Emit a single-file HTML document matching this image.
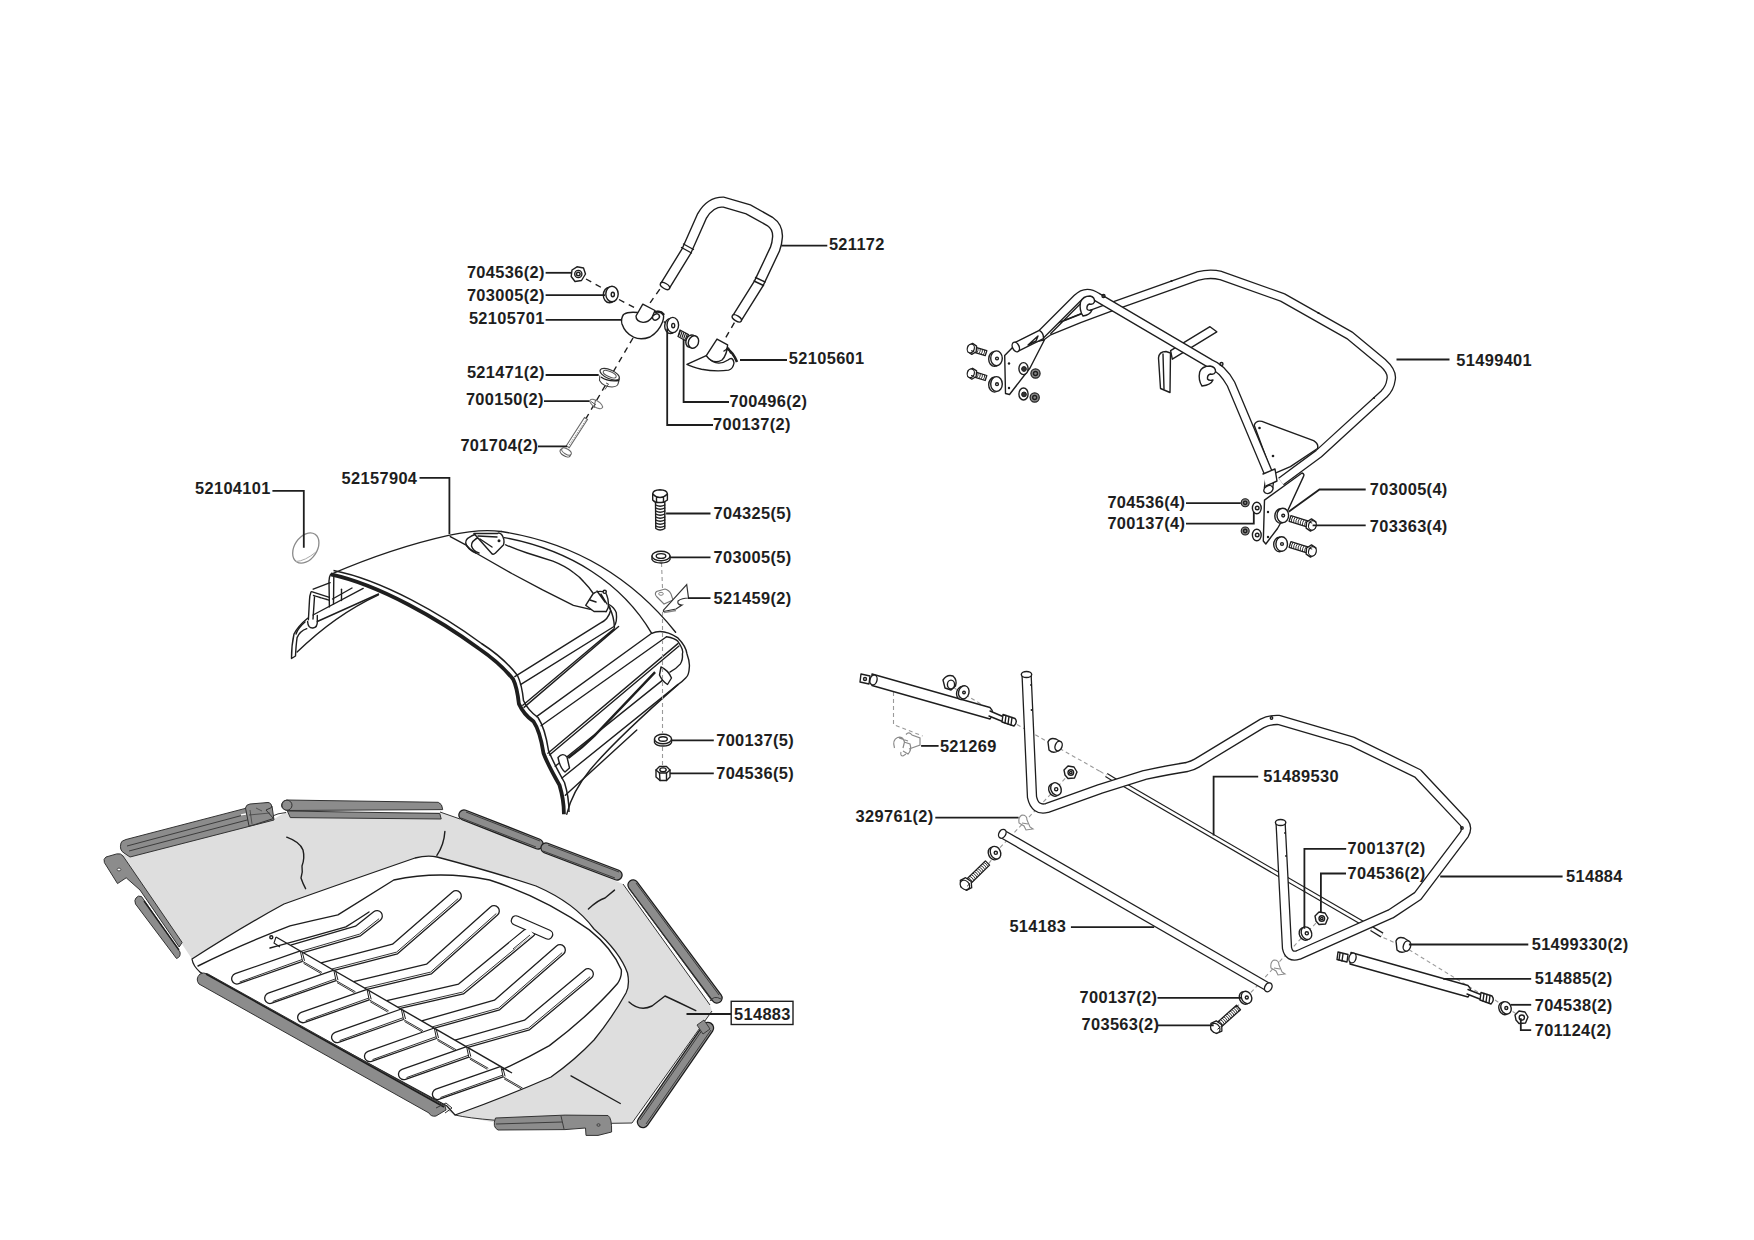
<!DOCTYPE html>
<html><head><meta charset="utf-8"><style>
html,body{margin:0;padding:0;background:#fff;}
svg{display:block;}
.lb text{font-family:"Liberation Sans",sans-serif;font-weight:bold;font-size:16.4px;letter-spacing:0.35px;fill:#1e1e1e;}
.ld polyline{fill:none;stroke:#1e1e1e;stroke-width:1.8;}
.p{fill:none;stroke:#1e1e1e;stroke-width:1.4;stroke-linejoin:round;stroke-linecap:round;}
.pw{fill:#fff;stroke:#1e1e1e;stroke-width:1.4;stroke-linejoin:round;stroke-linecap:round;}
.dsh{fill:none;stroke:#1e1e1e;stroke-width:1.4;stroke-dasharray:6 5;}
.dshl{fill:none;stroke:#9a9a9a;stroke-width:1.1;stroke-dasharray:4 3;}
</style></head><body>
<svg width="1754" height="1240" viewBox="0 0 1754 1240">
<rect width="1754" height="1240" fill="#fff"/>
<!-- 01_handle.svg -->
<g id="handle">
<path d="M 665 286 L 686.5 251 L 702 216 Q 710 202 723 202 L 748.5 209.5 L 770 221.5 Q 778 227 777.5 237 Q 777 244 775 249 L 758.7 283.5 L 736.8 318.4" fill="none" stroke="#1e1e1e" stroke-width="11.2"/>
<path d="M 665 286 L 686.5 251 L 702 216 Q 710 202 723 202 L 748.5 209.5 L 770 221.5 Q 778 227 777.5 237 Q 777 244 775 249 L 758.7 283.5 L 736.8 318.4" fill="none" stroke="#fff" stroke-width="8.4"/>
<ellipse cx="665" cy="286" rx="5.2" ry="2.6" transform="rotate(31 665 286)" class="pw"/>
<ellipse cx="736.8" cy="318.4" rx="5.2" ry="2.6" transform="rotate(32 736.8 318.4)" class="pw"/>
<path d="M 681.5 247.5 L 691.5 253 M 683.5 244 L 693.5 249.5" class="p"/>
<path d="M 754 281 L 763.5 285.5 M 755.5 277.5 L 765 282" class="p"/>
<path d="M 659.8 289.2 L 650.1 302.8" class="dsh"/>
<path d="M 734.4 322.6 L 723.7 341.1" class="dsh"/>
<path d="M 586 279 L 604 289 M 619 299.5 L 638 309.5" class="dsh"/>
<path d="M 633 338 L 585.6 419.2" class="dsh"/>
<!-- nut 704536 -->
<path d="M 572 270 L 577 266.8 L 583.5 268 L 585.5 274 L 581.5 280.5 L 575 281.5 L 571.2 276.5 Z" class="pw"/>
<circle cx="578.3" cy="274" r="3.6" class="p"/>
<circle cx="578.3" cy="274" r="1.8" class="p" stroke-width="1"/>
<!-- washer 703005 -->
<ellipse cx="609.5" cy="295" rx="6.2" ry="7.8" class="pw"/>
<ellipse cx="612" cy="294" rx="6.2" ry="7.8" class="pw"/>
<ellipse cx="612.8" cy="294.5" rx="1.6" ry="2.2" class="p" stroke-width="1.6"/>
<!-- bracket 52105701 -->
<path d="M 637.5 312.5 Q 628 311.5 623.5 314.5 Q 620.5 319 622 324 Q 625 333 633.6 337.2 Q 641 340.5 650 337 Q 659 331.5 662.5 322 Q 665 315 662 312.5 Q 658.5 310.8 655 312" class="pw"/>
<path d="M 636 316 L 642.8 304.2 L 655 310.5 L 652 317.5 Q 648 322.5 643 322.4 Q 636 321.5 636 316 Z" class="pw"/>
<ellipse cx="656" cy="317" rx="3.6" ry="2.8" transform="rotate(-30 656 317)" class="pw"/>
<path d="M 655 312 Q 661 310.5 664 315" fill="none" stroke="#1e1e1e" stroke-width="2.4"/>
<path d="M 663.7 321.7 L 667 323.4" class="dsh"/>
<!-- washer 700137 -->
<ellipse cx="670.5" cy="326" rx="5.8" ry="7.6" class="pw"/>
<ellipse cx="672.8" cy="325" rx="5.8" ry="7.6" class="pw"/>
<ellipse cx="673.2" cy="325.6" rx="1.5" ry="2.2" class="p" stroke-width="1.6"/>
<!-- screw 700496 -->
<path d="M 680 330 L 688.5 334.5 L 686 341 L 678 336.5 Z" fill="#fff" stroke="#1e1e1e" stroke-width="1.2"/>
<path d="M 680.5 330.5 L 678.5 336 M 682.2 331.3 L 680.2 336.9 M 683.9 332.2 L 681.9 337.8 M 685.6 333.1 L 683.6 338.7 M 687.3 334 L 685.3 339.6" stroke="#1e1e1e" stroke-width="1.1"/>
<ellipse cx="691" cy="341.2" rx="5" ry="6.4" transform="rotate(20 691 341.2)" class="pw"/>
<ellipse cx="693.5" cy="342" rx="5" ry="6.4" transform="rotate(20 693.5 342)" class="pw"/>
<!-- bracket 52105601 -->
<path d="M 686.9 364.3 L 706.3 355.6 Q 716 368 728 360 Q 733 356 734 363 Q 733 369 728.6 370.1 Q 716 372 701.5 369.2 Q 692 367 686.9 364.3 Z" class="pw"/>
<path d="M 706.3 355.6 L 717 339.1 L 727.6 344.9 Q 727 355 722 360 Q 713 365 706.3 355.6 Z" class="pw"/>
<path d="M 726.5 348 Q 733 352 737 362" fill="none" stroke="#1e1e1e" stroke-width="2.6"/>
<path d="M 724 351 L 728.5 348 L 730.5 353" class="p"/>
<!-- spacer 521471 -->
<path d="M 599.8 375.5 L 599.5 380.5 Q 603 386.5 612 387 Q 617.5 386.5 618 384 L 619.6 378.5" fill="#fff" stroke="#444" stroke-width="1.1"/>
<ellipse cx="609.7" cy="374.2" rx="10.4" ry="4.4" transform="rotate(24 609.7 374.2)" fill="#fff" stroke="#333" stroke-width="1.2"/>
<ellipse cx="609.7" cy="374.2" rx="7" ry="2.6" transform="rotate(24 609.7 374.2)" fill="none" stroke="#555" stroke-width="1"/>
<path d="M 601 377 Q 608 382 619 380.5" fill="none" stroke="#1e1e1e" stroke-width="1.4"/>
<path d="M 606 383 L 608.5 384 L 605 389.5" fill="none" stroke="#555" stroke-width="1"/>
<!-- washer 700150 -->
<ellipse cx="596.2" cy="404" rx="7.2" ry="3.2" transform="rotate(32 596.2 404)" fill="#fff" stroke="#777" stroke-width="1.1"/>
<path d="M 591 401.5 L 596 405 M 595.5 400 L 594 408" fill="none" stroke="#555" stroke-width="1"/>
<!-- bolt 701704 -->
<path d="M 584.5 417.5 L 587.5 419.5 L 569.2 447.8 L 566.3 445.8 Z" fill="#fff" stroke="#666" stroke-width="1.1"/>
<path d="M 585.6 420.5 L 568.5 446" stroke="#888" stroke-width="0.9" stroke-dasharray="1.6 1.2"/>
<ellipse cx="565.2" cy="453" rx="5.8" ry="3" transform="rotate(32 565.2 453)" fill="#fff" stroke="#555" stroke-width="1.1"/>
<ellipse cx="566.5" cy="451.5" rx="5.4" ry="2.6" transform="rotate(32 566.5 451.5)" fill="#fff" stroke="#666" stroke-width="1"/>
</g>

<!-- 02_hood.svg -->
<g id="hood">
<!-- oval 52104101 -->
<ellipse cx="305.8" cy="548" rx="16.6" ry="11.2" transform="rotate(-56 305.8 548)" fill="#fff" stroke="#8a8a8a" stroke-width="1.3"/>
<path d="M 296 561.5 Q 305 561 316 552" fill="none" stroke="#aaa" stroke-width="1"/>
<!-- top edge -->
<path d="M 330.7 574.4 Q 392 548 448.6 535.4 Q 480 528.5 501.3 531.5" class="p" stroke-width="2.2"/>
<!-- rear outer arc -->
<path d="M 501.3 531.5 C 570 542 630 575 675.6 632.2" class="p"/>
<path d="M 504.3 537.6 C 570 550 622 583 651.7 633.3" class="p"/>
<!-- end cap -->
<path d="M 651.7 633.3 Q 663 628 677.9 637.9 Q 686 646 687 653.9 Q 690 662 689.3 667.5 Q 689 675 685.9 677.8 Q 682 682 677.9 684.6 Q 615 740 590 770 Q 572 792 566.8 814.2" class="p"/>
<path d="M 666.5 636.7 Q 675 638 677.9 641.3 Q 684 650 682.4 653.9 Q 683 660 680.2 664.1 Q 676 669 669.9 672.1" class="p"/>
<!-- thick front edge -->
<path d="M 330.7 574.4 C 380 585 440 620 478.8 648.5 Q 500 663 513.1 679.2 Q 517 687 518.9 703.9 Q 524 715 533.4 721.3 Q 540 731 543.5 753.2 Q 548 765 559.5 785.1 Q 564 800 563.9 814.2" fill="none" stroke="#1e1e1e" stroke-width="3.8" stroke-linejoin="round"/>
<path d="M 333.5 570.5 C 382.5 580 443 615 481.5 643.5 Q 504 658 517.5 675.5 Q 522 685 523.5 700.5 Q 528 710.5 538 717.5 Q 545 728 548.5 750.5 Q 553 762 564.5 782.5 Q 569 797 569 812" fill="none" stroke="#1e1e1e" stroke-width="1.5" stroke-linejoin="round"/>
<!-- skirt lines -->
<path d="M 514.8 676.7 L 600.3 623.1 Q 608.3 619.6 610.6 610.5 Q 610 606 607.2 604.8" class="p"/>
<path d="M 520.5 684.6 L 614 626.5 Q 617.4 621.9 616.3 612.8 Q 614 607 609.5 604.8" class="p"/>
<path d="M 522.8 705.2 L 614 628.8 M 524 707.4 L 618.6 626.5" class="p" stroke-width="1.1"/>
<path d="M 536.5 716.6 L 651.7 633.3" class="p"/>
<path d="M 541 725.7 L 666.5 636.7" class="p"/>
<path d="M 547.9 753.2 L 677.9 643.6 M 549.5 755 L 679 646" class="p" stroke-width="1.1"/>
<path d="M 555.2 766.3 L 664.2 678.9" class="p"/>
<path d="M 562 778 L 677.9 684.6" class="p"/>
<path d="M 565.3 795.3 L 636.8 730" class="p" stroke-width="0"/>
<!-- rod -->
<path d="M 568.2 758 Q 582 748 594.3 735.8 L 655.1 672.1" fill="none" stroke="#1e1e1e" stroke-width="2.4"/>
<path d="M 661 667 Q 668 670 671.5 678 L 667.5 684.5 Q 662 681 659.5 675 Z" class="pw"/>
<path d="M 558 757.5 Q 563 752 567 757 L 569.5 768 L 565 772 Q 560 768 558 757.5 Z" class="pw"/>
<!-- left wing -->
<path d="M 330.5 574.5 Q 329 577 329 581 L 329.4 606.9" class="p" stroke-width="1.6"/>
<path d="M 333.8 577 L 333.5 604" class="p" stroke-width="1.3"/>
<path d="M 311.6 591.6 L 329.4 597.3" class="p" stroke-width="2.8"/>
<path d="M 313.5 595.5 L 328.5 600" class="p" stroke-width="0.9" stroke-dasharray="2 1"/>
<path d="M 313.2 589.2 L 330.2 582.7" class="p" stroke-width="1.1"/>
<path d="M 311 592 Q 309.5 596 309.5 600 L 308.4 619.8" class="p" stroke-width="1.6"/>
<path d="M 314.5 597 L 313 619" class="p" stroke-width="1.3"/>
<path d="M 307.6 621.5 Q 308 628.5 313 628 Q 317.5 627.5 317.3 621.5 L 317.3 615.5" class="p" stroke-width="1.2"/>
<path d="M 313 615 L 363.2 588.4" class="p" stroke-width="2"/>
<path d="M 341.5 589.2 L 341.5 600.5" class="p" stroke-width="1.2"/>
<path d="M 332.5 599 L 352 588" class="p" stroke-width="1.6"/>
<path d="M 317.3 621.5 L 378.5 594" class="p" stroke-width="1.3"/>
<path d="M 297.1 652.1 Q 335 615 378.5 594.8" class="p" stroke-width="1.4"/>
<path d="M 307.6 618.2 Q 298 626 294 634 Q 291.5 645 291.5 658.5 L 295.5 656 Q 296 645 297.1 637.6 Q 300 631 306.8 628.7" class="p" stroke-width="1.8"/>
<path d="M 305 622 Q 298 628 296 634" class="p" stroke-width="1"/>
<!-- handle recess -->
<path d="M 450.3 536.6 L 465.7 544.8 Q 470 550 475.9 553 L 511.8 573.5 L 542.6 589.9 L 573.4 605.3 Q 590 610 606.3 611.5" class="p" stroke-width="1.5"/>
<path d="M 505.7 544.8 Q 515 549 527.2 553 Q 540 557 552.9 561.2 Q 565 566 573.4 572.5 Q 580 577 583.7 581.7 Q 589 587 592.9 593" class="p" stroke-width="2.2"/>
<path d="M 476 534 Q 465 538 465.7 543 Q 467 549 475.9 553" class="p" stroke-width="1.2"/>
<path d="M 479 537 Q 471 541 471.5 546 Q 473 551 479 553" class="p" stroke-width="1.1"/>
<path d="M 473.9 533.5 L 491.3 553 Q 493 555.5 495.5 553 L 503.6 544.8 Q 505 539 501.6 534.5 Q 499 532 497.5 533.5 L 473.9 533.5 Z" class="pw" stroke-width="1.3"/>
<path d="M 478 536 L 497 537 M 480 539 L 492 547" class="p" stroke-width="0.9"/>
<circle cx="499" cy="540.7" r="1.5" fill="#1e1e1e"/>
<path d="M 585.7 605.3 L 592.9 594 Q 597 590 605.2 592 Q 609 598 608.3 607.4 L 606.3 611.5 L 594 611.5 Z" class="pw" stroke-width="1.2"/>
<path d="M 590 600 L 596 602 M 597 591 L 605 602 M 601 594 L 607 604" class="p" stroke-width="0.9"/>
<circle cx="604.7" cy="591.8" r="1.6" class="pw" stroke-width="1"/>
<path d="M 609.3 607.4 Q 614 616 614.5 627.9" class="p" stroke-width="1.1"/>
</g>

<!-- 03_bag.svg -->
<g id="bag">
<!-- gray body -->
<path d="M 122 854 L 130 856 L 274 819 L 286 812 L 440 812 L 460 819 L 541 850 L 623 884 L 710 1005 L 712 1011 L 632 1123 L 565 1124 L 492 1122 L 455 1115 L 200 972 L 192 959 L 182 944 Z" fill="#dedede" stroke="none"/>
<path d="M 270 817 Q 278 813 286 812.5 M 440 812 L 460 819 M 623 884 L 710 1005 M 712 1011 L 632 1123 M 455 1115 Q 480 1121 565 1124 L 632 1123" fill="none" stroke="#333" stroke-width="1"/>
<!-- wrinkles -->
<path d="M 286.7 837.2 Q 300 842 303 850 Q 305 858 302 866 Q 303 872 301 878 Q 303 884 305.6 888.7" class="p" stroke-width="1.1"/>
<path d="M 444.9 831.4 Q 444 845 436.9 855.3" class="p" stroke-width="1.1"/>
<path d="M 588.4 909 Q 598 900 605 898 L 614.5 890.1" class="p" stroke-width="1.1"/>
<path d="M 629 1001.9 Q 640 1012 652 1006 L 665 996 Q 680 1003 695.8 1010.6" class="p" stroke-width="1.1"/>
<path d="M 571 1075.9 L 620.3 1103.5" class="p" stroke-width="1.1"/>
<!-- floor -->
<path d="M 192 959 Q 240 928 284 904 Q 340 884 415 858 Q 427 855 437 857 Q 490 871 536 886 Q 575 903 594 929 Q 620 952 627.5 973 Q 630 985 626 993 Q 612 1018 594 1040 Q 575 1060 551 1077 Q 505 1097 455 1115 L 447 1106 L 200.4 972.4 Q 193 966 192 959 Z" fill="#fff" stroke="#1e1e1e" stroke-width="1.3"/>
<path d="M 198 966 Q 240 945 290 925.9 Q 315 920 337.9 914.9 Q 365 898 393.8 880 Q 440 870 489.6 880 Q 545 898 589.3 929.9 Q 612 948 621.3 969.8 Q 622 977 617.3 983.8 Q 590 1015 549.4 1045.6 Q 515 1065 479.6 1079.6 L 452 1090" class="p" stroke-width="1.1"/>
<path d="M 270 948 Q 300 940 345.9 926.9 Q 360 918 369 912" class="p" stroke-width="1.1"/>
<path d="M 300.3 950.8 L 235.2 973.7 A 5.3 5.3 0 0 0 238.8 983.7 L 302.5 961.3" fill="#fff" stroke="#1e1e1e" stroke-width="1.3" stroke-linejoin="round"/>
<path d="M 239.7 982.0 L 301.9 959.6" stroke="#1e1e1e" stroke-width="0.9"/>
<path d="M 300.3 950.8 L 302.5 961.3 M 302.3 952.3 L 304.5 960.8" stroke="#1e1e1e" stroke-width="1"/>
<path d="M 302.5 961.3 L 322.0 972.5 M 303.5 963.3 L 321.0 973.5" stroke="#1e1e1e" stroke-width="0.9"/>
<path d="M 333.8 970.2 L 268.2 993.2 A 5.3 5.3 0 0 0 271.8 1003.2 L 336.0 980.6" fill="#fff" stroke="#1e1e1e" stroke-width="1.3" stroke-linejoin="round"/>
<path d="M 272.7 1001.5 L 335.4 978.9" stroke="#1e1e1e" stroke-width="0.9"/>
<path d="M 333.8 970.2 L 336.0 980.6 M 335.8 971.7 L 338.0 980.1" stroke="#1e1e1e" stroke-width="1"/>
<path d="M 336.0 980.6 L 355.5 991.8 M 337.0 982.6 L 354.5 992.8" stroke="#1e1e1e" stroke-width="0.9"/>
<path d="M 367.0 989.3 L 301.2 1012.4 A 5.3 5.3 0 0 0 304.8 1022.4 L 369.2 999.8" fill="#fff" stroke="#1e1e1e" stroke-width="1.3" stroke-linejoin="round"/>
<path d="M 305.7 1020.7 L 368.6 998.1" stroke="#1e1e1e" stroke-width="0.9"/>
<path d="M 367.0 989.3 L 369.2 999.8 M 369.0 990.8 L 371.2 999.3" stroke="#1e1e1e" stroke-width="1"/>
<path d="M 369.2 999.8 L 388.7 1011.0 M 370.2 1001.8 L 387.7 1012.0" stroke="#1e1e1e" stroke-width="0.9"/>
<path d="M 401.3 1009.0 L 335.1 1032.3 A 5.3 5.3 0 0 0 338.7 1042.3 L 403.5 1019.5" fill="#fff" stroke="#1e1e1e" stroke-width="1.3" stroke-linejoin="round"/>
<path d="M 339.6 1040.6 L 402.9 1017.8" stroke="#1e1e1e" stroke-width="0.9"/>
<path d="M 401.3 1009.0 L 403.5 1019.5 M 403.3 1010.5 L 405.5 1019.0" stroke="#1e1e1e" stroke-width="1"/>
<path d="M 403.5 1019.5 L 423.0 1030.7 M 404.5 1021.5 L 422.0 1031.7" stroke="#1e1e1e" stroke-width="0.9"/>
<path d="M 434.3 1028.0 L 368.0 1051.3 A 5.3 5.3 0 0 0 371.6 1061.3 L 436.5 1038.5" fill="#fff" stroke="#1e1e1e" stroke-width="1.3" stroke-linejoin="round"/>
<path d="M 372.5 1059.6 L 435.9 1036.8" stroke="#1e1e1e" stroke-width="0.9"/>
<path d="M 434.3 1028.0 L 436.5 1038.5 M 436.3 1029.5 L 438.5 1038.0" stroke="#1e1e1e" stroke-width="1"/>
<path d="M 436.5 1038.5 L 456.0 1049.7 M 437.5 1040.5 L 455.0 1050.7" stroke="#1e1e1e" stroke-width="0.9"/>
<path d="M 466.6 1046.6 L 402.0 1069.3 A 5.3 5.3 0 0 0 405.6 1079.3 L 468.8 1057.1" fill="#fff" stroke="#1e1e1e" stroke-width="1.3" stroke-linejoin="round"/>
<path d="M 406.5 1077.6 L 468.2 1055.4" stroke="#1e1e1e" stroke-width="0.9"/>
<path d="M 466.6 1046.6 L 468.8 1057.1 M 468.6 1048.1 L 470.8 1056.6" stroke="#1e1e1e" stroke-width="1"/>
<path d="M 468.8 1057.1 L 488.3 1068.3 M 469.8 1059.1 L 487.3 1069.3" stroke="#1e1e1e" stroke-width="0.9"/>
<path d="M 500.9 1066.4 L 435.9 1089.2 A 5.3 5.3 0 0 0 439.5 1099.2 L 503.1 1076.9" fill="#fff" stroke="#1e1e1e" stroke-width="1.3" stroke-linejoin="round"/>
<path d="M 440.4 1097.5 L 502.5 1075.2" stroke="#1e1e1e" stroke-width="0.9"/>
<path d="M 500.9 1066.4 L 503.1 1076.9 M 502.9 1067.9 L 505.1 1076.4" stroke="#1e1e1e" stroke-width="1"/>
<path d="M 503.1 1076.9 L 522.6 1088.1 M 504.1 1078.9 L 521.6 1089.1" stroke="#1e1e1e" stroke-width="0.9"/>
<path d="M 290.6 945.2 L 355.5 926.2 L 373.7 911.8 A 5.3 5.3 0 0 1 380.3 920.2 L 380.3 920.2 L 360.5 935.8 L 303.3 952.6" fill="#fff" stroke="#1e1e1e" stroke-width="1.3" stroke-linejoin="round"/>
<path d="M 301.0 951.3 L 359.6 934.1 L 379.1 918.7" fill="none" stroke="#1e1e1e" stroke-width="0.9" stroke-linejoin="round"/>
<path d="M 321.1 962.8 L 392.5 944.2 L 452.5 892.0 A 5.3 5.3 0 0 1 459.5 900.0 L 459.5 900.0 L 397.5 953.8 L 334.2 970.4" fill="#fff" stroke="#1e1e1e" stroke-width="1.3" stroke-linejoin="round"/>
<path d="M 331.9 969.0 L 396.6 952.1 L 458.2 898.6" fill="none" stroke="#1e1e1e" stroke-width="0.9" stroke-linejoin="round"/>
<path d="M 353.6 981.6 L 426.5 964.2 L 490.5 907.0 A 5.3 5.3 0 0 1 497.5 915.0 L 497.5 915.0 L 431.5 973.8 L 367.0 989.3" fill="#fff" stroke="#1e1e1e" stroke-width="1.3" stroke-linejoin="round"/>
<path d="M 364.6 987.9 L 430.6 972.1 L 496.3 913.5" fill="none" stroke="#1e1e1e" stroke-width="0.9" stroke-linejoin="round"/>
<path d="M 386.8 1000.7 L 458.6 984.1 L 526.6 927.9 A 5.3 5.3 0 0 1 533.4 936.1 L 533.4 936.1 L 463.4 993.9 L 400.3 1008.4" fill="#fff" stroke="#1e1e1e" stroke-width="1.3" stroke-linejoin="round"/>
<path d="M 397.9 1007.1 L 462.5 992.1 L 532.2 934.6" fill="none" stroke="#1e1e1e" stroke-width="0.9" stroke-linejoin="round"/>
<path d="M 421.8 1020.8 L 494.4 1000.2 L 556.5 946.0 A 5.3 5.3 0 0 1 563.5 954.0 L 563.5 954.0 L 499.6 1009.8 L 434.6 1028.2" fill="#fff" stroke="#1e1e1e" stroke-width="1.3" stroke-linejoin="round"/>
<path d="M 432.3 1026.9 L 498.7 1008.1 L 562.2 952.6" fill="none" stroke="#1e1e1e" stroke-width="0.9" stroke-linejoin="round"/>
<path d="M 455.1 1040.0 L 524.5 1020.2 L 584.6 969.9 A 5.3 5.3 0 0 1 591.4 978.1 L 591.4 978.1 L 529.5 1029.8 L 467.9 1047.4" fill="#fff" stroke="#1e1e1e" stroke-width="1.3" stroke-linejoin="round"/>
<path d="M 465.6 1046.1 L 528.6 1028.1 L 590.2 976.6" fill="none" stroke="#1e1e1e" stroke-width="0.9" stroke-linejoin="round"/>
<path d="M 516 920.5 L 548 934.5" stroke="#1e1e1e" stroke-width="10.6" stroke-linecap="round"/>
<path d="M 516 920.5 L 548 934.5" stroke="#fff" stroke-width="8" stroke-linecap="round"/>
<path d="M 512 946 L 531 931" stroke="#fff" stroke-width="8"/>
<path d="M 513 949 L 530 935" stroke="#1e1e1e" stroke-width="0.9"/>
<path d="M 276 937 L 512 1073" stroke="#1e1e1e" stroke-width="1.4"/>
<path d="M 276 937 L 274 943 L 280 947" fill="none" stroke="#1e1e1e" stroke-width="1.1"/>
<circle cx="271.3" cy="937.3" r="1.5" class="p" stroke-width="1"/>
<!-- top-left rod band -->
<path d="M 121 843 Q 119 850 124 853 L 130 857 L 274 820 L 272 806 L 268 802.5 L 126 839.5 Q 121 841 121 843 Z" fill="#8c8c8c" stroke="#333" stroke-width="1"/>
<path d="M 127 846 L 266 809 M 129 851 L 270 814" fill="none" stroke="#333" stroke-width="0.9"/>
<path d="M 245.5 808 Q 246 804.5 250 804 L 268 802.5 Q 272 803 271.5 807.5 L 266 810 L 273.5 818.5 L 255 824.5 L 249 826 Z" fill="#8c8c8c" stroke="#333" stroke-width="1"/>
<path d="M 250 810 L 252 824 M 256 808 L 262 811 M 249 815 L 270 813" fill="none" stroke="#444" stroke-width="0.8"/>
<path d="M 241 815 L 246 814" stroke="#fff" stroke-width="1.5"/>
<!-- left plate -->
<path d="M 104.4 862.6 Q 103 859 106 857 L 116.8 853.9 Q 121 853 123 856 L 182.1 942.4 L 179.2 947 L 140 890 L 126.2 877.8 L 117.5 883.6 Z" fill="#8c8c8c" stroke="#333" stroke-width="1"/>
<ellipse cx="119" cy="869.5" rx="1.8" ry="1.4" fill="#fff" stroke="#333" stroke-width="0.8"/>
<path d="M 136 898 Q 138 895 141.5 896.5 L 180 952 Q 181 957 176.5 958.5 L 135.5 904 Q 134 900 136 898 Z" fill="#8c8c8c" stroke="#333" stroke-width="1"/>
<path d="M 144 901 L 179 950" stroke="#1e1e1e" stroke-width="1.4"/>
<!-- top center rod -->
<path d="M 286.7 800 L 438.3 802.3 Q 442.5 804 442.7 809.6 L 287 810.5 Q 281 809 281.5 804.5 Q 282.5 800.3 286.7 800 Z" fill="#8c8c8c" stroke="#333" stroke-width="1"/>
<circle cx="287" cy="805.2" r="5" fill="#8c8c8c" stroke="#333" stroke-width="1"/>
<path d="M 287.4 811 L 439.8 813.5 L 441.2 819 L 290.3 817.6 Z" fill="#8c8c8c" stroke="#333" stroke-width="1"/>
<!-- top right rod -->
<path d="M 464 815 L 538 844" stroke="#1e1e1e" stroke-width="11.5" stroke-linecap="round"/>
<path d="M 464 815 L 538 844" stroke="#8c8c8c" stroke-width="9" stroke-linecap="round"/>
<path d="M 461 818 L 536 847" stroke="#333" stroke-width="0.9"/>
<path d="M 466 812 L 540 841" stroke="#333" stroke-width="0.9"/>
<path d="M 546 848 L 617 875" stroke="#1e1e1e" stroke-width="11.5" stroke-linecap="round"/>
<path d="M 546 848 L 617 875" stroke="#8c8c8c" stroke-width="9" stroke-linecap="round"/>
<path d="M 543 851 L 615 878" stroke="#333" stroke-width="0.9"/>
<path d="M 548 845 L 619 872" stroke="#333" stroke-width="0.9"/>
<!-- right upper rod -->
<path d="M 633 885 L 717 998" stroke="#1e1e1e" stroke-width="11.5" stroke-linecap="round"/>
<path d="M 633 885 L 717 998" stroke="#8c8c8c" stroke-width="9" stroke-linecap="round"/>
<path d="M 629.5 889 L 712 1001" stroke="#333" stroke-width="0.9"/>
<path d="M 636 883 L 719 995" stroke="#333" stroke-width="0.9"/>
<path d="M 710 1001 Q 714 995 721 999" fill="none" stroke="#333" stroke-width="0.9"/>
<!-- right lower rod -->
<path d="M 708 1028 L 643 1122" stroke="#1e1e1e" stroke-width="12.5" stroke-linecap="round"/>
<path d="M 708 1028 L 643 1122" stroke="#8c8c8c" stroke-width="10" stroke-linecap="round"/>
<path d="M 711 1030 L 646 1124" stroke="#333" stroke-width="0.9"/>
<path d="M 705 1026 L 640 1120" stroke="#333" stroke-width="0.9"/>
<path d="M 697 1025 L 704 1020 L 710 1029 L 703 1034 Z" fill="#8c8c8c" stroke="#333" stroke-width="0.9"/>
<!-- bottom bracket -->
<path d="M 495.5 1118 L 565.1 1115.1 L 608 1115.5 Q 612 1118 611.6 1132 L 598 1135.4 L 586 1135.4 L 585.5 1128 L 565 1129.6 L 498 1130 Q 492 1127 495.5 1118 Z" fill="#8c8c8c" stroke="#333" stroke-width="1"/>
<path d="M 496 1124 L 562 1122 M 561 1116 L 564 1129" fill="none" stroke="#333" stroke-width="0.9"/>
<ellipse cx="598.5" cy="1125" rx="1.6" ry="1.3" fill="none" stroke="#333" stroke-width="0.8"/>
<!-- bottom rod -->
<path d="M 200 974 Q 203 972 208 974 L 445 1106 L 446 1110 L 436 1116 Q 431 1117 429 1113 L 199 984 Q 195 979 200 974 Z" fill="#8c8c8c" stroke="#333" stroke-width="1"/>
<path d="M 206 974 L 444 1107" stroke="#1e1e1e" stroke-width="1.6"/>
<path d="M 436 1108 L 446 1103 L 452 1108 L 445 1113" fill="none" stroke="#333" stroke-width="1"/>
</g>

<!-- 04_frame1.svg -->
<g id="frame1">
<!-- back tube -->
<path id="bt" d="M 1030 345 L 1049 331 Q 1080 318 1110.8 307 L 1198 276 Q 1210 273 1220.7 275.5 L 1282.6 297.5 L 1349.8 335.5 L 1383 363 Q 1393 372 1391 380 Q 1390 388 1384 394 L 1318.7 453.7 L 1281 481.5" fill="none" stroke="#1e1e1e" stroke-width="9.6" stroke-linejoin="round"/>
<path d="M 1030 345 L 1049 331 Q 1080 318 1110.8 307 L 1198 276 Q 1210 273 1220.7 275.5 L 1282.6 297.5 L 1349.8 335.5 L 1383 363 Q 1393 372 1391 380 Q 1390 388 1384 394 L 1318.7 453.7 L 1281 481.5" fill="none" stroke="#fff" stroke-width="7" stroke-linejoin="round"/>
<!-- gusset -->
<path d="M 1254.2 425.2 Q 1256 420 1262 421.4 L 1313.6 440.7 Q 1319 444 1317.5 448.5 L 1290.4 466.6 L 1272.3 474.3 Z" class="pw" stroke-width="1.2"/>
<circle cx="1259.5" cy="428" r="1.3" fill="#1e1e1e"/>
<circle cx="1273" cy="456" r="1.3" fill="#1e1e1e"/>
<!-- strap bracket -->
<path d="M 1170.6 350.6 L 1210 326.7 L 1216.8 331.8 L 1172.3 359.2 Z" class="pw" stroke-width="1.2"/>
<path d="M 1158.5 358 Q 1159 351.5 1166 351.5 L 1170.5 353 L 1170 392.5 L 1160.5 388.5 Z" class="pw" stroke-width="1.2"/>
<path d="M 1163 354 L 1164 389" class="p" stroke-width="1"/>
<!-- front tube -->
<path id="ft" d="M 1017 346.5 L 1041 334.5 L 1077 298.5 Q 1086 289.5 1097 297 L 1210 363.5 Q 1222 368 1231 384 L 1270 477 L 1268.4 489" fill="none" stroke="#1e1e1e" stroke-width="9.6" stroke-linejoin="round"/>
<path d="M 1017 346.5 L 1041 334.5 L 1077 298.5 Q 1086 289.5 1097 297 L 1210 363.5 Q 1222 368 1231 384 L 1270 477 L 1268.4 489" fill="none" stroke="#fff" stroke-width="7" stroke-linejoin="round"/>
<ellipse cx="1268.4" cy="489.5" rx="4.8" ry="3.6" transform="rotate(-30 1268.4 489.5)" class="pw" stroke-width="1.2"/>
<path d="M 1263 474 L 1275 469 L 1277 481 L 1266 486" class="pw" stroke-width="1.1"/>
<!-- strut -->
<path d="M 1050.8 333.4 L 1080.1 304.1 M 1061.3 321.9 L 1082.2 313.5" class="p" stroke-width="1.1"/>
<!-- left plate -->
<path d="M 1004.7 355.5 L 1013 347.1 L 1044.5 339.7 L 1030 368 L 1009.5 394.5 L 1005.5 393.5 Z" class="pw" stroke-width="1.2"/>
<circle cx="1009" cy="363.5" r="1.2" fill="#1e1e1e"/>
<circle cx="1009" cy="388" r="1.2" fill="#1e1e1e"/>
<path d="M 1014.1 342.9 L 1039.3 330.3 Q 1044 333 1043.4 338.7 L 1017.8 351.3 Z" class="pw" stroke-width="1.2"/>
<ellipse cx="1015.8" cy="347" rx="3.3" ry="5" transform="rotate(-25 1015.8 347)" class="pw" stroke-width="1.2"/>
<path d="M 1028 345 L 1038 336 L 1036 341 Z" class="p" stroke-width="0.9"/>
<!-- hooks -->
<path d="M 1083 316 Q 1079 310 1080.5 302 Q 1083 296 1090 296 Q 1095 297 1094.5 302 Q 1093 305 1089.5 304 Q 1086.5 305 1087 309 Q 1088 311 1092 310 Q 1090 315 1083 316 Z" class="pw" stroke-width="1.2"/>
<path d="M 1202 386 Q 1198 380 1199.7 372 Q 1202 366 1210 366 Q 1216 367 1215.5 372 Q 1214 375 1210.5 374 Q 1207 375 1207.5 379 Q 1209 381 1213 380 Q 1211 385 1202 386 Z" class="pw" stroke-width="1.2"/>
<circle cx="1103.5" cy="296" r="1.5" class="p" stroke-width="1"/>
<circle cx="1221.5" cy="364" r="1.5" class="p" stroke-width="1"/>
<circle cx="1171.5" cy="281" r="1.1" fill="#1e1e1e"/>
<circle cx="1318.5" cy="313" r="1.1" fill="#1e1e1e"/>
<circle cx="1374" cy="398" r="1.1" fill="#1e1e1e"/>
<!-- left fasteners -->
<ellipse cx="994.5" cy="359" rx="5.8" ry="7.4" class="pw" stroke-width="1.2"/>
<ellipse cx="996.5" cy="358.3" rx="5.8" ry="7.4" class="pw" stroke-width="1.2"/>
<circle cx="997" cy="358.5" r="1.4" class="p" stroke-width="1"/>
<ellipse cx="994.5" cy="384.7" rx="5.8" ry="7.4" class="pw" stroke-width="1.2"/>
<ellipse cx="996.5" cy="384" rx="5.8" ry="7.4" class="pw" stroke-width="1.2"/>
<circle cx="997" cy="384.2" r="1.4" class="p" stroke-width="1"/>
<ellipse cx="1023.5" cy="368.6" rx="4.6" ry="6" class="pw" stroke-width="1.2"/>
<circle cx="1024" cy="369" r="2.4" fill="#333" stroke="#1e1e1e" stroke-width="1"/>
<ellipse cx="1023.5" cy="394" rx="4.6" ry="6" class="pw" stroke-width="1.2"/>
<circle cx="1024" cy="394.4" r="2.4" fill="#333" stroke="#1e1e1e" stroke-width="1"/>
<circle cx="1035.5" cy="373.5" r="4.6" fill="#888" stroke="#1e1e1e" stroke-width="1.2"/>
<circle cx="1035.5" cy="373.5" r="2" class="p" stroke-width="1"/>
<circle cx="1034.7" cy="397.5" r="4.6" fill="#888" stroke="#1e1e1e" stroke-width="1.2"/>
<circle cx="1034.7" cy="397.5" r="2" class="p" stroke-width="1"/>
<!-- right plate -->
<path d="M 1264.5 500.1 L 1302 473 Q 1305 474 1303.3 476.9 L 1287.8 510.5 L 1277.5 528.5 L 1265.8 544 L 1263.3 541 Z" class="pw" stroke-width="1.2"/>
<circle cx="1268" cy="512" r="1.2" fill="#1e1e1e"/>
<circle cx="1268" cy="537" r="1.2" fill="#1e1e1e"/>
<ellipse cx="1280.6" cy="516" rx="5.8" ry="7.2" class="pw" stroke-width="1.2"/>
<ellipse cx="1282.8" cy="515.4" rx="5.8" ry="7.2" class="pw" stroke-width="1.2"/>
<circle cx="1283.2" cy="515.6" r="1.4" class="p" stroke-width="1"/>
<ellipse cx="1279.5" cy="544.5" rx="5.8" ry="7.2" class="pw" stroke-width="1.2"/>
<ellipse cx="1281.7" cy="544" rx="5.8" ry="7.2" class="pw" stroke-width="1.2"/>
<circle cx="1282" cy="544" r="1.4" class="p" stroke-width="1"/>
<ellipse cx="1256.8" cy="508" rx="4.4" ry="5.8" class="pw" stroke-width="1.2"/>
<circle cx="1257.2" cy="508" r="1.8" class="p" stroke-width="1.2"/>
<ellipse cx="1256.8" cy="535" rx="4.4" ry="5.8" class="pw" stroke-width="1.2"/>
<circle cx="1257.2" cy="535" r="1.8" class="p" stroke-width="1.2"/>
<circle cx="1245.2" cy="502.8" r="4" fill="#888" stroke="#1e1e1e" stroke-width="1.1"/>
<circle cx="1245.2" cy="502.8" r="1.7" class="p" stroke-width="0.9"/>
<circle cx="1245.2" cy="531" r="4" fill="#888" stroke="#1e1e1e" stroke-width="1.1"/>
<circle cx="1245.2" cy="531" r="1.7" class="p" stroke-width="0.9"/>
</g>

<!-- 05_frame2.svg -->
<g id="frame2">
<!-- dashed construction lines -->
<path d="M 893.5 692 L 893.5 724.5 L 922.6 736" class="dshl"/>
<path d="M 1017 724.5 L 1100 771.3 M 1100 771.3 L 1106 775" class="dshl"/>
<path d="M 953.2 687.4 L 985.5 706.8" class="dshl"/>
<path d="M 995.2 852.7 L 1055.6 789 L 1070.2 772.9" class="dshl"/>
<path d="M 988.9 863.3 L 995 855" class="dshl"/>
<path d="M 1216.4 1027.2 L 1246.3 997.4 L 1306 933.2 L 1320.9 918.3" class="dshl"/>
<path d="M 1383.5 937.7 L 1397 943.7 M 1408.9 949.6 L 1486.5 997.4 M 1495 1000 L 1520.8 1016.8" class="dshl"/>
<!-- rod 51489530 -->
<path d="M 1122.8 783.9 L 1367 925.7" fill="none" stroke="#1e1e1e" stroke-width="5"/>
<path d="M 1122.8 783.9 L 1367 925.7" fill="none" stroke="#fff" stroke-width="2.6"/>
<path d="M 1106.3 775 L 1121 784" fill="none" stroke="#1e1e1e" stroke-width="4.6"/>
<path d="M 1106.3 775 L 1121 784" fill="none" stroke="#fff" stroke-width="2.2"/>
<path d="M 1371.6 928.7 L 1382 935" fill="none" stroke="#1e1e1e" stroke-width="5.6"/>
<path d="M 1371.6 928.7 L 1382 935" fill="none" stroke="#fff" stroke-width="3"/>
<!-- frame tube 514884 -->
<path d="M 1026.6 675 L 1032 797 Q 1035 811 1047 808 L 1100 789 L 1144.6 775 Q 1170 769.5 1187 767 Q 1193 765.5 1197 763 L 1262 723.5 Q 1270 719.5 1279 720 L 1352.2 741.5 L 1417.9 773.6 L 1464.1 822.8 Q 1468 828 1464.1 834.7 L 1417.9 895.9 L 1391 913.8 L 1298.5 954.9 Q 1289 958 1287 948 L 1280.6 823" fill="none" stroke="#1e1e1e" stroke-width="10.4" stroke-linejoin="round"/>
<path d="M 1026.6 675 L 1032 797 Q 1035 811 1047 808 L 1100 789 L 1144.6 775 Q 1170 769.5 1187 767 Q 1193 765.5 1197 763 L 1262 723.5 Q 1270 719.5 1279 720 L 1352.2 741.5 L 1417.9 773.6 L 1464.1 822.8 Q 1468 828 1464.1 834.7 L 1417.9 895.9 L 1391 913.8 L 1298.5 954.9 Q 1289 958 1287 948 L 1280.6 823" fill="none" stroke="#fff" stroke-width="7.8" stroke-linejoin="round"/>
<ellipse cx="1026.5" cy="674.5" rx="5.2" ry="3" class="pw" stroke-width="1.3"/>
<ellipse cx="1280.6" cy="822.5" rx="5.2" ry="3" class="pw" stroke-width="1.3"/>
<circle cx="1031" cy="685" r="0.9" fill="#1e1e1e"/>
<circle cx="1031.5" cy="710" r="0.9" fill="#1e1e1e"/>
<circle cx="1285" cy="833" r="0.9" fill="#1e1e1e"/>
<circle cx="1286" cy="856" r="0.9" fill="#1e1e1e"/>
<circle cx="1271.5" cy="718" r="1.2" class="p" stroke-width="0.9"/>
<circle cx="1462" cy="828" r="1.2" class="p" stroke-width="0.9"/>
<!-- rod 514183 -->
<path d="M 1002.5 834 L 1268 987" fill="none" stroke="#1e1e1e" stroke-width="9.4"/>
<path d="M 1002.5 834 L 1268 987" fill="none" stroke="#fff" stroke-width="6.8"/>
<ellipse cx="1002.3" cy="833.8" rx="3.4" ry="4.7" transform="rotate(30 1002.3 833.8)" class="pw" stroke-width="1.2"/>
<ellipse cx="1268.3" cy="987.3" rx="3.4" ry="4.7" transform="rotate(30 1268.3 987.3)" class="pw" stroke-width="1.2"/>
<!-- gas strut upper-left -->
<path d="M 872 674 L 990 707.5 Q 995.5 713 990 719 L 872 685.5 Z" class="pw" stroke-width="1.3"/>
<path d="M 990 711 L 1004 717 L 1002.5 721.5 L 989 716" class="pw" stroke-width="1.2"/>
<path d="M 1003 714.5 L 1015 718.5 Q 1018 722 1014 726 L 1002 722 Z" class="pw" stroke-width="1.2"/>
<path d="M 1006 715.5 L 1005 723 M 1009 716.5 L 1008 724 M 1012 717.5 L 1011 725" class="p" stroke-width="1"/>
<ellipse cx="873.5" cy="680" rx="3.5" ry="5" transform="rotate(15 873.5 680)" class="pw" stroke-width="1.2"/>
<path d="M 861 674 L 870 676 L 869 684 L 860 682 Z" class="pw" stroke-width="1.2"/>
<circle cx="865" cy="679" r="1.5" class="p" stroke-width="1"/>
<!-- cap nut + washer -->
<path d="M 943 680 Q 947 674 953 676 Q 957.5 680 955.5 686 L 951 690 L 945 688 Z" class="pw" stroke-width="1.2"/>
<ellipse cx="951" cy="684.5" rx="3.6" ry="4.4" class="p" stroke-width="1"/>
<ellipse cx="961.8" cy="693" rx="5.2" ry="6.6" transform="rotate(15 961.8 693)" class="pw" stroke-width="1.2"/>
<ellipse cx="963.8" cy="692.3" rx="5.2" ry="6.6" transform="rotate(15 963.8 692.3)" class="pw" stroke-width="1.2"/>
<circle cx="964" cy="692.5" r="1.3" class="p" stroke-width="1"/>
<!-- clip 521269 -->
<path d="M 894.5 748 Q 892 740 897.5 737.5 Q 903 736 904.5 742 L 903 748 M 899 738 L 908 741 M 904 742 L 910 744 Q 912 750 908 754 L 903 751" fill="none" stroke="#8a8a8a" stroke-width="1.2"/>
<path d="M 906 734.5 Q 909 731 912 735 L 920 738 L 920 745 L 909 749" fill="none" stroke="#8a8a8a" stroke-width="1.2"/>
<path d="M 901 752 Q 900 756 903 756 L 906 754" fill="none" stroke="#8a8a8a" stroke-width="1.1"/>
<!-- spacer left -->
<path d="M 1048 742 Q 1050 737 1056 739 L 1061 742 L 1058 751 Q 1053 754 1049 750 Z" class="pw" stroke-width="1.2"/>
<ellipse cx="1058.6" cy="746" rx="3.4" ry="5" transform="rotate(20 1058.6 746)" class="pw" stroke-width="1.2"/>
<!-- nut left -->
<path d="M 1064 770 L 1068 766 L 1074 767 L 1077 772 L 1074.5 778 L 1068 778.5 L 1065 775 Z" class="pw" stroke-width="1.2"/>
<circle cx="1070.8" cy="772.6" r="2.8" class="p" stroke-width="1"/>
<circle cx="1070.8" cy="772.6" r="1.2" class="p" stroke-width="0.8"/>
<!-- washer left -->
<ellipse cx="1054" cy="790" rx="5" ry="6.6" transform="rotate(-25 1054 790)" class="pw" stroke-width="1.2"/>
<ellipse cx="1056" cy="789" rx="5" ry="6.6" transform="rotate(-25 1056 789)" class="pw" stroke-width="1.2"/>
<circle cx="1056.2" cy="789.2" r="1.6" class="p" stroke-width="1.2"/>
<!-- clip 329761 left -->
<path d="M 1019 823 Q 1018 817 1022 815 Q 1027 815 1027 820 L 1030 827 L 1033 829 L 1026 830 L 1024 826 Z M 1022 823 L 1028 824" fill="#fff" stroke="#8a8a8a" stroke-width="1.1"/>
<!-- washer + bolt lower left -->
<ellipse cx="993.5" cy="853.5" rx="5" ry="6.6" transform="rotate(-25 993.5 853.5)" class="pw" stroke-width="1.2"/>
<ellipse cx="995.5" cy="852.7" rx="5" ry="6.6" transform="rotate(-25 995.5 852.7)" class="pw" stroke-width="1.2"/>
<circle cx="995.8" cy="852.8" r="1.6" class="p" stroke-width="1.2"/>
<!-- right fasteners -->
<ellipse cx="1304.5" cy="934" rx="5" ry="6.6" transform="rotate(-25 1304.5 934)" class="pw" stroke-width="1.2"/>
<ellipse cx="1306.5" cy="933.2" rx="5" ry="6.6" transform="rotate(-25 1306.5 933.2)" class="pw" stroke-width="1.2"/>
<circle cx="1306.8" cy="933.3" r="1.6" class="p" stroke-width="1.2"/>
<path d="M 1315 916 L 1319 912 L 1325 913 L 1328 918 L 1325.5 924 L 1319 924.5 L 1316 921 Z" class="pw" stroke-width="1.2"/>
<circle cx="1321.8" cy="918.6" r="2.8" class="p" stroke-width="1"/>
<circle cx="1321.8" cy="918.6" r="1.2" class="p" stroke-width="0.8"/>
<path d="M 1271 968 Q 1270 962 1274 960 Q 1279 960 1279 965 L 1282 972 L 1285 974 L 1278 975 L 1276 971 Z M 1274 968 L 1280 969" fill="#fff" stroke="#8a8a8a" stroke-width="1.1"/>
<path d="M 1396 941 Q 1398 936 1404 938 L 1409.5 941.5 L 1406.5 951 Q 1401 954 1397 950 Z" class="pw" stroke-width="1.2"/>
<ellipse cx="1407" cy="946" rx="3.6" ry="5.2" transform="rotate(20 1407 946)" class="pw" stroke-width="1.2"/>
<ellipse cx="1244.5" cy="998" rx="5" ry="6.4" transform="rotate(-25 1244.5 998)" class="pw" stroke-width="1.2"/>
<ellipse cx="1246.5" cy="997.4" rx="5" ry="6.4" transform="rotate(-25 1246.5 997.4)" class="pw" stroke-width="1.2"/>
<circle cx="1246.8" cy="997.5" r="1.5" class="p" stroke-width="1.2"/>
<!-- gas strut lower-right -->
<path d="M 1351 952.5 L 1468 985.5 Q 1473.5 991 1468 997 L 1350 964 Z" class="pw" stroke-width="1.3"/>
<path d="M 1468 989.5 L 1482 995 L 1481 999.5 L 1467 994" class="pw" stroke-width="1.2"/>
<path d="M 1481 992.5 L 1492 996 Q 1495 1000 1491 1004 L 1480 1000 Z" class="pw" stroke-width="1.2"/>
<path d="M 1484 993.5 L 1483 1001 M 1487 994.5 L 1486 1002 M 1490 995.5 L 1489 1003" class="p" stroke-width="1"/>
<ellipse cx="1352.5" cy="958" rx="3.5" ry="5" transform="rotate(15 1352.5 958)" class="pw" stroke-width="1.2"/>
<path d="M 1338 952 L 1348 954.5 L 1347 962 L 1337 959.5 Z" class="pw" stroke-width="1.2"/>
<path d="M 1340 953 L 1339 960 M 1343 954 L 1342 961" class="p" stroke-width="1"/>
<ellipse cx="1504" cy="1008.5" rx="5" ry="6.4" transform="rotate(-25 1504 1008.5)" class="pw" stroke-width="1.2"/>
<ellipse cx="1506" cy="1007.8" rx="5" ry="6.4" transform="rotate(-25 1506 1007.8)" class="pw" stroke-width="1.2"/>
<circle cx="1506.3" cy="1008" r="1.5" class="p" stroke-width="1.2"/>
<path d="M 1515 1015 L 1519 1011 L 1525 1012 L 1528 1017 L 1525.5 1023 L 1519 1023.5 L 1516 1020 Z" class="pw" stroke-width="1.2"/>
<circle cx="1521.8" cy="1017.6" r="2.6" class="p" stroke-width="1"/>
</g>

<!-- 06_hoodfast.svg -->
<g id="hoodfast">
<path d="M 661.5 563 L 662.5 588 M 662.5 612 L 662.5 733 M 662.5 747 L 662.5 766" class="dshl"/>
<!-- bolt 704325 -->
<path d="M 655.5 502 L 655.8 528.5 Q 660 531.5 664.8 528.5 L 664.8 502" class="pw" stroke-width="1.2"/>
<path d="M 655.8 505 Q 660 507.5 664.8 505 M 655.8 508 Q 660 510.5 664.8 508 M 655.8 511 Q 660 513.5 664.8 511 M 655.8 514 Q 660 516.5 664.8 514 M 655.8 517 Q 660 519.5 664.8 517 M 655.8 520 Q 660 522.5 664.8 520 M 655.8 523 Q 660 525.5 664.8 523 M 655.8 526 Q 660 528.5 664.8 526" class="p" stroke-width="0.9"/>
<path d="M 652.7 494 Q 653 490 660 489.8 Q 667 490 667.4 494 L 667.4 500 Q 664 503 660 502.5 Q 655 503 652.7 500 Z" class="pw" stroke-width="1.2"/>
<path d="M 652.7 494 Q 656 497.5 660 497.5 Q 664 497.5 667.4 494 M 656.5 497 L 656.5 502 M 663.5 497 L 663.5 502" class="p" stroke-width="1"/>
<!-- washer 703005 -->
<path d="M 652 556 L 652 559.5 Q 654 563 661 563 Q 668 563 670 559.5 L 670 556" class="pw" stroke-width="1.2"/>
<ellipse cx="661" cy="556" rx="9" ry="4.8" class="pw" stroke-width="1.2"/>
<ellipse cx="661" cy="556" rx="4.8" ry="2.4" class="p" stroke-width="1.1"/>
<!-- bracket 521459 -->
<path d="M 657 597 Q 654 594 656.5 591.5 L 665 589 Q 669 590 671 594 L 673 600 L 664 604 Z" fill="#fff" stroke="#777" stroke-width="1.1"/>
<ellipse cx="661" cy="593.8" rx="2.3" ry="1.5" fill="none" stroke="#777" stroke-width="0.9"/>
<path d="M 663.5 610.2 L 686.7 584.5 L 688.5 598 Q 682 598 678 601 Q 677 605 682 605 L 676 609 L 663.5 611.5 Z" fill="#fff" stroke="#333" stroke-width="1.2"/>
<path d="M 664 612.5 L 676 610.5" stroke="#888" stroke-width="1.6"/>
<!-- washer 700137(5) -->
<path d="M 654.5 739 L 654.5 742.5 Q 656 746 663 746 Q 670 746 671.5 742.5 L 671.5 739" class="pw" stroke-width="1.2"/>
<ellipse cx="663" cy="739" rx="8.5" ry="4.8" class="pw" stroke-width="1.2"/>
<ellipse cx="663" cy="739" rx="4.3" ry="2.2" class="p" stroke-width="1.1"/>
<!-- nut 704536(5) -->
<path d="M 656 770 L 656 777 L 660 780.5 L 666.5 780.5 L 670 777 L 670 770" class="pw" stroke-width="1.2"/>
<path d="M 656 770 L 659.5 766.5 L 666.5 766.5 L 670 770 L 666.5 773 L 659.5 773 Z" class="pw" stroke-width="1.2"/>
<ellipse cx="663" cy="769.8" rx="3.2" ry="1.9" class="p" stroke-width="1"/>
<path d="M 659.5 773 L 660 780.5 M 666.5 773 L 666.5 780.5" class="p" stroke-width="1"/>
</g>

<!-- 07_bolts.svg -->
<g id="bolts">
<path d="M 970.8 883.5 L 989.6 865.1 L 985.4 860.9 L 966.6 879.2 Z" fill="#fff" stroke="#1e1e1e" stroke-width="1.3" stroke-linejoin="round"/>
<path d="M 972.3 882.0 Q 971.1 879.0 968.1 877.7 M 973.9 880.5 Q 972.7 877.5 969.7 876.2 M 975.5 878.9 Q 974.2 876.0 971.3 874.6 M 977.0 877.4 Q 975.8 874.4 972.9 873.1 M 978.6 875.9 Q 977.4 872.9 974.4 871.6 M 980.2 874.3 Q 978.9 871.4 976.0 870.0 M 981.8 872.8 Q 980.5 869.8 977.6 868.5 M 983.3 871.3 Q 982.1 868.3 979.1 867.0 M 984.9 869.7 Q 983.7 866.8 980.7 865.5 M 986.5 868.2 Q 985.2 865.2 982.3 863.9 M 988.0 866.7 Q 986.8 863.7 983.8 862.4 " fill="none" stroke="#1e1e1e" stroke-width="0.9"/>
<path d="M 971.7 887.7 L 971.2 881.4 L 965.6 877.7 L 960.3 880.3 L 960.8 886.6 L 966.4 890.3 Z" fill="#fff" stroke="#1e1e1e" stroke-width="1.3" stroke-linejoin="round"/>
<ellipse cx="964.9" cy="885.0" rx="5.3" ry="4.2" transform="rotate(45.7 964.9 885.0)" fill="#fff" stroke="#1e1e1e" stroke-width="1.2"/>
<path d="M 970.1 883.3 L 967.2 886.2" stroke="#1e1e1e" stroke-width="1"/>
<path d="M 1221.2 1027.0 L 1240.5 1009.7 L 1236.5 1005.3 L 1217.2 1022.5 Z" fill="#fff" stroke="#1e1e1e" stroke-width="1.3" stroke-linejoin="round"/>
<path d="M 1222.8 1025.5 Q 1221.7 1022.5 1218.8 1021.0 M 1224.4 1024.1 Q 1223.3 1021.0 1220.4 1019.6 M 1226.0 1022.6 Q 1224.9 1019.6 1222.0 1018.2 M 1227.6 1021.2 Q 1226.5 1018.2 1223.6 1016.7 M 1229.2 1019.8 Q 1228.1 1016.7 1225.2 1015.3 M 1230.8 1018.3 Q 1229.7 1015.3 1226.8 1013.9 M 1232.5 1016.9 Q 1231.4 1013.9 1228.5 1012.4 M 1234.1 1015.5 Q 1233.0 1012.4 1230.1 1011.0 M 1235.7 1014.0 Q 1234.6 1011.0 1231.7 1009.6 M 1237.3 1012.6 Q 1236.2 1009.6 1233.3 1008.1 M 1238.9 1011.2 Q 1237.8 1008.1 1234.9 1006.7 " fill="none" stroke="#1e1e1e" stroke-width="0.9"/>
<path d="M 1221.9 1031.1 L 1221.7 1024.8 L 1216.3 1020.9 L 1210.9 1023.3 L 1211.1 1029.6 L 1216.5 1033.5 Z" fill="#fff" stroke="#1e1e1e" stroke-width="1.3" stroke-linejoin="round"/>
<ellipse cx="1215.3" cy="1028.2" rx="5.3" ry="4.2" transform="rotate(48.3 1215.3 1028.2)" fill="#fff" stroke="#1e1e1e" stroke-width="1.2"/>
<path d="M 1220.5 1026.7 L 1217.5 1029.4" stroke="#1e1e1e" stroke-width="1"/>
<path d="M 1308.6 521.2 L 1290.9 515.7 L 1289.1 521.3 L 1306.9 526.8 Z" fill="#fff" stroke="#1e1e1e" stroke-width="1.3" stroke-linejoin="round"/>
<path d="M 1306.4 520.5 Q 1304.4 523.0 1304.7 526.1 M 1304.2 519.8 Q 1302.2 522.3 1302.4 525.4 M 1301.9 519.2 Q 1299.9 521.6 1300.2 524.7 M 1299.7 518.5 Q 1297.7 520.9 1298.0 524.0 M 1297.5 517.8 Q 1295.5 520.2 1295.8 523.3 M 1295.3 517.1 Q 1293.3 519.5 1293.6 522.6 M 1293.1 516.4 Q 1291.1 518.8 1291.4 522.0 " fill="none" stroke="#1e1e1e" stroke-width="0.9"/>
<path d="M 1311.5 518.9 L 1306.6 522.0 L 1306.1 528.1 L 1310.5 531.1 L 1315.4 528.0 L 1315.9 521.9 Z" fill="#fff" stroke="#1e1e1e" stroke-width="1.3" stroke-linejoin="round"/>
<ellipse cx="1312.4" cy="525.4" rx="4.8" ry="3.8" transform="rotate(-72.8 1312.4 525.4)" fill="#fff" stroke="#1e1e1e" stroke-width="1.2"/>
<path d="M 1308.7 522.0 L 1312.2 523.1" stroke="#1e1e1e" stroke-width="1"/>
<path d="M 1308.6 547.2 L 1290.9 541.7 L 1289.1 547.3 L 1306.9 552.8 Z" fill="#fff" stroke="#1e1e1e" stroke-width="1.3" stroke-linejoin="round"/>
<path d="M 1306.4 546.5 Q 1304.4 549.0 1304.7 552.1 M 1304.2 545.8 Q 1302.2 548.3 1302.4 551.4 M 1301.9 545.2 Q 1299.9 547.6 1300.2 550.7 M 1299.7 544.5 Q 1297.7 546.9 1298.0 550.0 M 1297.5 543.8 Q 1295.5 546.2 1295.8 549.3 M 1295.3 543.1 Q 1293.3 545.5 1293.6 548.6 M 1293.1 542.4 Q 1291.1 544.8 1291.4 548.0 " fill="none" stroke="#1e1e1e" stroke-width="0.9"/>
<path d="M 1311.5 544.9 L 1306.6 548.0 L 1306.1 554.1 L 1310.5 557.1 L 1315.4 554.0 L 1315.9 547.9 Z" fill="#fff" stroke="#1e1e1e" stroke-width="1.3" stroke-linejoin="round"/>
<ellipse cx="1312.4" cy="551.4" rx="4.8" ry="3.8" transform="rotate(-72.8 1312.4 551.4)" fill="#fff" stroke="#1e1e1e" stroke-width="1.2"/>
<path d="M 1308.7 548.0 L 1312.2 549.1" stroke="#1e1e1e" stroke-width="1"/>
<path d="M 974.4 352.3 L 985.2 355.7 L 986.8 350.7 L 975.9 347.3 Z" fill="#fff" stroke="#1e1e1e" stroke-width="1.3" stroke-linejoin="round"/>
<path d="M 976.5 353.0 Q 978.5 350.8 978.1 348.0 M 978.7 353.7 Q 980.6 351.5 980.3 348.7 M 980.9 354.3 Q 982.8 352.2 982.4 349.4 M 983.1 355.0 Q 985.0 352.9 984.6 350.0 " fill="none" stroke="#1e1e1e" stroke-width="0.9"/>
<path d="M 971.8 354.4 L 976.2 351.7 L 976.6 346.1 L 972.6 343.4 L 968.2 346.1 L 967.8 351.7 Z" fill="#fff" stroke="#1e1e1e" stroke-width="1.3" stroke-linejoin="round"/>
<ellipse cx="970.8" cy="348.5" rx="4.4" ry="3.5" transform="rotate(107.3 970.8 348.5)" fill="#fff" stroke="#1e1e1e" stroke-width="1.2"/>
<path d="M 974.3 351.6 L 971.1 350.6" stroke="#1e1e1e" stroke-width="1"/>
<path d="M 974.4 377.1 L 985.2 380.5 L 986.8 375.5 L 975.9 372.1 Z" fill="#fff" stroke="#1e1e1e" stroke-width="1.3" stroke-linejoin="round"/>
<path d="M 976.5 377.8 Q 978.5 375.6 978.1 372.8 M 978.7 378.5 Q 980.6 376.3 980.3 373.5 M 980.9 379.1 Q 982.8 377.0 982.4 374.2 M 983.1 379.8 Q 985.0 377.7 984.6 374.8 " fill="none" stroke="#1e1e1e" stroke-width="0.9"/>
<path d="M 971.8 379.2 L 976.2 376.5 L 976.6 370.9 L 972.6 368.2 L 968.2 370.9 L 967.8 376.5 Z" fill="#fff" stroke="#1e1e1e" stroke-width="1.3" stroke-linejoin="round"/>
<ellipse cx="970.8" cy="373.3" rx="4.4" ry="3.5" transform="rotate(107.3 970.8 373.3)" fill="#fff" stroke="#1e1e1e" stroke-width="1.2"/>
<path d="M 974.3 376.4 L 971.1 375.4" stroke="#1e1e1e" stroke-width="1"/>
</g>

<g class="ld">
<polyline points="545.6,272.8 571,272.8"/>
<polyline points="545.6,295.1 605,295.1"/>
<polyline points="545.6,319.9 621.6,319.9"/>
<polyline points="545.6,375 598.7,375"/>
<polyline points="544,401.2 589.5,401.2"/>
<polyline points="538,446.4 567,446.4"/>
<polyline points="781.5,245.7 827.3,245.7"/>
<polyline points="740,360 787,360"/>
<polyline points="683.6,339 683.6,402 729,402"/>
<polyline points="667.2,328.5 667.2,425 713,425"/>
<polyline points="272.4,490.8 303.8,490.8 303.8,547.7"/>
<polyline points="419.5,477.9 449.4,477.9 449.4,533.9"/>
<polyline points="666.1,513.5 710.5,513.5"/>
<polyline points="670,557.4 710.5,557.4"/>
<polyline points="688,598.1 710.5,598.1"/>
<polyline points="671.3,740.4 713.8,740.4"/>
<polyline points="670,773.4 713.8,773.4"/>
<polyline points="686.5,1014 731.2,1014"/>
<polyline points="1396.5,359.5 1449.5,359.5"/>
<polyline points="1288.7,511.7 1319.5,489.5 1365.7,489.5"/>
<polyline points="1312.6,525.4 1365.7,525.4"/>
<polyline points="1186,503.2 1240.8,503.2"/>
<polyline points="1186,523.7 1253.8,523.7 1253.8,511.7"/>
<polyline points="921.1,745.9 938.6,745.9"/>
<polyline points="935.3,817.7 1018.6,817.7"/>
<polyline points="1070.9,927.1 1154.2,927.1"/>
<polyline points="1157.5,997.9 1241.9,997.9"/>
<polyline points="1157.5,1025.3 1213.7,1025.3"/>
<polyline points="1213.6,835.5 1213.6,776.6 1258.2,776.6"/>
<polyline points="1304.4,928.7 1304.4,848.8 1346.2,848.8"/>
<polyline points="1320.9,912.3 1320.9,873.5 1346,873.5"/>
<polyline points="1440.2,876.5 1562.6,876.5"/>
<polyline points="1408.9,944.5 1528.3,944.5"/>
<polyline points="1443.2,978.9 1531.2,978.9"/>
<polyline points="1510.4,1004.8 1531.2,1004.8"/>
<polyline points="1520.8,1018.3 1520.8,1030.2 1531.2,1030.2"/>
<rect x="731.2" y="1001.3" width="61.8" height="23.2" fill="none" stroke="#1e1e1e" stroke-width="1.4"/>
</g>
<g class="lb">
<text x="466.9" y="277.7">704536(2)</text>
<text x="466.9" y="300.6">703005(2)</text>
<text x="468.9" y="323.6">52105701</text>
<text x="466.9" y="378.3">521471(2)</text>
<text x="465.9" y="404.5">700150(2)</text>
<text x="460.4" y="451.3">701704(2)</text>
<text x="828.9" y="249.6">521172</text>
<text x="788.8" y="363.8">52105601</text>
<text x="729.4" y="406.9">700496(2)</text>
<text x="713.0" y="430.4">700137(2)</text>
<text x="195.0" y="493.9">52104101</text>
<text x="341.6" y="484.0">52157904</text>
<text x="713.6" y="518.7">704325(5)</text>
<text x="713.6" y="562.5">703005(5)</text>
<text x="713.6" y="603.8">521459(2)</text>
<text x="716.2" y="745.6">700137(5)</text>
<text x="716.2" y="779.1">704536(5)</text>
<text x="734.0" y="1019.9">514883</text>
<text x="1456.3" y="365.6">51499401</text>
<text x="1369.8" y="494.6">703005(4)</text>
<text x="1369.8" y="532.2">703363(4)</text>
<text x="1107.4" y="508.3">704536(4)</text>
<text x="1107.4" y="528.8">700137(4)</text>
<text x="939.9" y="751.5">521269</text>
<text x="855.6" y="822.0">329761(2)</text>
<text x="1009.4" y="932.0">514183</text>
<text x="1079.5" y="1003.2">700137(2)</text>
<text x="1081.5" y="1030.3">703563(2)</text>
<text x="1263.2" y="781.9">51489530</text>
<text x="1347.6" y="854.1">700137(2)</text>
<text x="1347.6" y="878.9">704536(2)</text>
<text x="1566.0" y="881.6">514884</text>
<text x="1531.7" y="950.2">51499330(2)</text>
<text x="1534.7" y="984.0">514885(2)</text>
<text x="1534.7" y="1010.8">704538(2)</text>
<text x="1534.7" y="1036.2">701124(2)</text>
</g>
</svg>
</body></html>
